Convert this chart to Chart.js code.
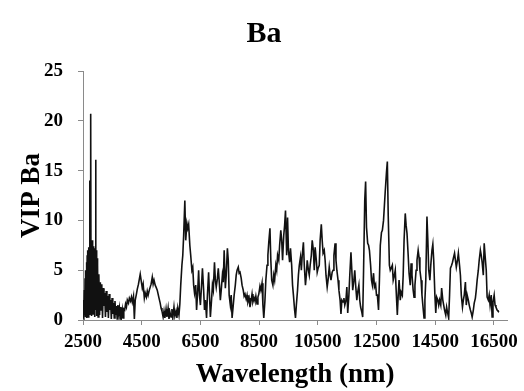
<!DOCTYPE html>
<html>

<head>
  <meta charset="UTF-8" />
  <title>VIP Ba</title>
  <script src="https://cdn.jsdelivr.net/npm/chart.js"></script>
  <style>
    body { margin: 0; background: #fff; }
  </style>
</head>

<body>
  <canvas id="vipChart" width="524" height="391"></canvas>
  <script>
    // dense spikes near 2500-3000 nm
    const wlA = [2510, 2522, 2534, 2546, 2558, 2570, 2582, 2594, 2606, 2618, 2630, 2642, 2654, 2666, 2678, 2690, 2702, 2714, 2726, 2738, 2750,
      2762, 2774, 2786, 2798, 2810, 2822, 2834, 2846, 2858, 2870, 2882, 2894, 2906, 2918, 2930, 2942, 2954, 2966, 2978, 2990, 3002];
    const vipA = [0.3, 2.0, 0.2, 3.0, 0.5, 4.2, 0.3, 5.0, 0.8, 5.8, 0.2, 6.5, 1.0, 7.0, 0.3, 7.3, 1.5, 6.8, 0.5, 14.0, 2.0,
      20.7, 1.0, 7.2, 0.4, 8.0, 2.5, 6.9, 0.6, 7.4, 1.2, 6.8, 0.3, 7.2, 3.0, 16.1, 1.0, 7.0, 0.4, 6.2, 1.8, 5.5];

    const wlB = [3015, 3040, 3065, 3090, 3115, 3140, 3165, 3190, 3215, 3240, 3265, 3290, 3315, 3340, 3365, 3390, 3415, 3440,
      3465, 3490, 3515, 3540, 3565, 3590, 3615, 3640, 3665, 3690, 3715, 3740, 3765, 3790, 3815, 3840, 3865, 3890];
    const vipB = [0.3, 4.6, 0.5, 3.8, 1.0, 3.6, 0.2, 3.2, 1.4, 2.7, 0.3, 2.9, 0.8, 2.4, 0.2, 2.6, 1.0, 2.0,
      0.1, 2.2, 0.6, 1.7, 0.2, 1.9, 0.5, 1.4, 0.1, 1.5, 0.7, 1.2, 0.1, 1.3, 0.4, 1.0, 0.2, 1.1];

    const wlC = [3920, 3950, 3980, 4010, 4050, 4080, 4120, 4150, 4180, 4220, 4250, 4280, 4320, 4350, 4390, 4420, 4450, 4490, 4520,
      4550, 4590, 4620, 4660, 4690, 4720, 4760, 4790, 4820, 4860, 4890, 4920, 4960, 4990, 5030, 5060, 5090, 5130, 5160,
      5190, 5230, 5260, 5290, 5330, 5360, 5400, 5430, 5460, 5500, 5530, 5560, 5600, 5630, 5670, 5700, 5730, 5770, 5800];
    const vipC = [1.0, 1.6, 1.3, 2.0, 1.7, 2.2, 1.9, 2.3, 1.8, 2.4, 0.1, 2.0, 2.6, 3.1, 3.6, 4.1, 4.6, 3.8, 3.2,
      3.6, 2.2, 2.7, 2.3, 2.9, 2.5, 3.0, 3.3, 3.6, 4.3, 3.6, 4.0, 3.5, 3.3, 3.0, 2.6, 2.2, 1.7, 1.2,
      0.9, 0.3, 0.9, 0.2, 1.1, 0.3, 1.2, 0.1, 0.8, 0.3, 1.1, 0.2, 1.3, 0.4, 0.9, 0.2, 1.2, 0.5, 1.6];

    const wlD = [5830, 5870, 5900, 5930, 5970, 6000, 6040, 6070, 6100, 6140,
      6170, 6210, 6240, 6270, 6300, 6340, 6370, 6410, 6440, 6470,
      6500, 6540, 6570, 6610, 6640, 6670, 6710, 6740, 6780, 6810,
      6840, 6880, 6910, 6940, 6980, 7010, 7040, 7080, 7110, 7150,
      7180, 7210, 7250, 7280, 7310, 7350, 7380, 7420, 7450, 7480,
      7520, 7550, 7580, 7620, 7650, 7690, 7720, 7750, 7790, 7820,
      7850, 7890, 7920, 7960, 7990, 8020, 8060, 8090, 8120, 8160,
      8190, 8230, 8260, 8290, 8330, 8360, 8390, 8430, 8460, 8490];
    const vipD = [3.5, 5.5, 6.5, 8.5, 12.0, 8.0, 9.7, 9.2, 9.6, 7.5,
      6.5, 5.0, 5.3, 3.5, 2.7, 3.5, 1.0, 3.0, 5.0, 2.5,
      1.5, 3.5, 5.2, 3.0, 1.0, 2.0, 0.2, 2.5, 4.8, 2.5,
      0.3, 2.0, 3.5, 3.0, 5.8, 4.0, 3.3, 4.2, 5.2, 3.5,
      2.0, 3.0, 4.5, 3.8, 7.0, 3.2, 4.5, 7.2, 6.0, 2.5,
      1.5, 2.5, 0.2, 1.5, 2.5, 3.5, 4.5, 5.0, 5.3, 4.7,
      4.8, 4.2, 3.5, 3.0, 2.4, 2.6, 2.1, 2.5, 1.8, 2.2,
      1.3, 2.0, 2.6, 1.8, 2.2, 1.9, 2.4, 1.6, 2.3, 2.6];

    const wlE = [8530, 8560, 8600, 8630, 8660, 8700, 8730, 8770, 8800, 8830,
      8870, 8900, 8930, 8970, 9000, 9030, 9070, 9100, 9130, 9170,
      9200, 9240, 9270, 9300, 9340, 9370, 9400, 9440, 9470, 9500,
      9540, 9570, 9610, 9640, 9670, 9710, 9740, 9770, 9810, 9840,
      9870, 9910, 9940, 9970, 10010, 10040, 10080, 10110, 10140, 10180,
      10210, 10240, 10280, 10310, 10350, 10380, 10410, 10450, 10480, 10510,
      10550, 10580, 10620, 10650, 10680, 10720, 10750, 10780, 10820, 10850,
      10890, 10920, 10950, 10990, 11020, 11050, 11090, 11120, 11150, 11190];
    const vipE = [3.4, 3.0, 3.7, 1.5, 0.2, 2.0, 4.0, 5.5, 6.5, 7.8,
      9.2, 6.0, 4.0, 3.5, 4.5, 4.0, 5.5, 5.0, 6.5, 6.0,
      7.5, 9.0, 8.0, 6.0, 8.5, 9.5, 11.0, 6.5, 10.3, 7.0,
      5.8, 7.2, 5.5, 3.5, 2.5, 1.0, 0.2, 1.5, 3.0, 4.5,
      5.5, 6.3, 5.0, 6.5, 7.8, 5.5, 3.5, 4.5, 6.0, 5.0,
      4.5, 5.5, 6.5, 8.0, 7.0, 5.0, 7.3, 6.0, 4.8, 5.2,
      5.5, 8.0, 9.6, 8.0, 6.7, 7.0, 6.0, 4.5, 3.3, 4.0,
      5.3, 4.5, 4.0, 4.8, 5.0, 6.5, 7.7, 6.0, 5.0, 4.0];

    const wlF = [11220, 11260, 11290, 11320, 11360, 11390, 11420, 11460, 11490, 11520,
      11560, 11590, 11630, 11660, 11690, 11730, 11760, 11790, 11830, 11860,
      11900, 11930, 11960, 12000, 12030, 12060, 12100, 12130, 12160, 12200,
      12230, 12260, 12300, 12330, 12360, 12400, 12430, 12470, 12500, 12530,
      12570, 12600, 12630, 12670, 12700, 12740, 12770, 12800, 12840, 12870,
      12900, 12940, 12970, 13000, 13040, 13070, 13110, 13140, 13170, 13210,
      13240, 13270, 13310, 13340, 13380, 13410, 13440, 13480, 13510, 13540,
      13580, 13610, 13650, 13680, 13710, 13750, 13780, 13810, 13850, 13880];
    const vipF = [3.0, 2.0, 0.6, 2.0, 1.8, 2.2, 1.5, 2.0, 3.3, 0.7,
      2.5, 4.5, 6.8, 5.0, 3.0, 4.0, 5.0, 3.5, 2.0, 2.8,
      3.5, 2.0, 1.3, 0.8, 0.3, 5.0, 12.0, 13.9, 9.3, 7.7,
      7.5, 7.0, 5.5, 4.0, 3.5, 4.7, 3.3, 3.6, 2.5, 2.5,
      1.0, 4.0, 7.5, 8.8, 9.0, 10.0, 11.5, 13.0, 14.8, 15.9,
      10.5, 5.5, 5.0, 5.2, 5.5, 4.0, 4.5, 5.0, 3.0, 0.5,
      2.5, 4.0, 2.0, 2.8, 2.5, 4.5, 8.0, 10.7, 9.5, 8.7,
      6.5, 4.7, 3.5, 5.7, 4.5, 3.0, 2.3, 3.5, 5.0, 6.0];

    const wlG = [13920, 13950, 13980, 14020, 14050, 14080, 14120, 14150, 14180, 14220,
      14250, 14280, 14320, 14350, 14390, 14420, 14450, 14490, 14520, 14550,
      14590, 14620, 14650, 14690, 14720, 14760, 14790, 14820, 14860, 14890,
      14920, 14960, 14990, 15020, 15060, 15090, 15120, 15160, 15190, 15220,
      15260, 15290, 15330, 15360, 15390, 15430, 15460, 15490, 15530, 15560,
      15590, 15630, 15660, 15700, 15730, 15760, 15800, 15830, 15870, 15900,
      15930, 15970, 16000, 16040, 16070, 16100, 16140, 16170, 16200, 16240,
      16270, 16310, 16340, 16370, 16410, 16440, 16470, 16510, 16540, 16570,
      16610, 16640, 16670];
    const vipG = [7.0, 6.3, 5.0, 4.0, 2.5, 1.5, 0.2, 2.0, 4.0, 10.4,
      8.0, 5.0, 4.0, 5.5, 7.0, 7.6, 6.0, 2.5, 0.7, 2.3,
      2.0, 1.5, 2.0, 1.5, 3.2, 2.0, 1.5, 1.0, 0.5, 1.3,
      0.8, 0.2, 2.5, 5.2, 5.5, 5.8, 6.2, 6.7, 6.0, 5.3,
      6.0, 6.7, 5.5, 4.5, 2.5, 1.3, 2.0, 2.5, 3.8, 1.5,
      2.5, 2.0, 1.5, 1.0, 0.7, 0.3, 1.0, 1.7, 2.2, 3.0,
      4.0, 5.0, 6.0, 7.0, 6.5, 5.8, 4.5, 7.7, 6.5, 5.0,
      2.3, 2.0, 2.5, 1.5, 2.5, 0.3, 1.8, 2.5, 1.5, 1.3,
      1.0, 0.9, 0.8];

    const xTickValues = [2500, 4500, 6500, 8500, 10500, 12500, 14500, 16500];
    const yTickStep = 5;

    const wavelength = [].concat(wlA, wlB, wlC, wlD, wlE, wlF, wlG);
    const vipBa = [].concat(vipA, vipB, vipC, vipD, vipE, vipF, vipG);
    const points = wavelength.map((w, i) => ({ x: w, y: vipBa[i] }));

    const serif = "'Liberation Serif', 'Times New Roman', serif";
    const axisGray = "#8a8a8a";

    const ctx = document.getElementById("vipChart").getContext("2d");
    new Chart(ctx, {
      type: "line",
      data: {
        datasets: [
          {
            data: points,
            borderColor: "#111",
            borderWidth: 1.6,
            pointRadius: 0,
            tension: 0,
            fill: false,
          },
        ],
      },
      options: {
        responsive: false,
        animation: false,
        layout: { padding: { left: 16, right: 12, top: 0, bottom: 0 } },
        plugins: {
          legend: { display: false },
          tooltip: { enabled: false },
          title: {
            display: true,
            text: "Ba",
            color: "#000",
            font: { family: serif, size: 30, weight: "bold" },
            padding: { top: 16, bottom: 19 },
          },
        },
        scales: {
          x: {
            type: "linear",
            min: 2500,
            max: 16950,
            afterBuildTicks: (s) => { s.ticks = xTickValues.map((v) => ({ value: v })); },
            afterFit: (s) => { s.height = 71; },
            grid: { drawOnChartArea: false, drawTicks: true, tickLength: 5, color: axisGray },
            border: { color: axisGray, width: 1 },
            ticks: {
              color: "#000",
              font: { family: serif, size: 19, weight: "bold" },
              padding: 6,
              maxRotation: 0,
              autoSkip: false,
              callback: (v) => String(v),
            },
            title: {
              display: true,
              text: "Wavelength (nm)",
              color: "#000",
              font: { family: serif, size: 27, weight: "bold" },
              padding: { top: 0, bottom: 0 },
            },
          },
          y: {
            min: 0,
            max: 25,
            afterFit: (s) => { s.width = 67; },
            grid: { drawOnChartArea: false, drawTicks: true, tickLength: 5, color: axisGray },
            border: { color: axisGray, width: 1 },
            ticks: {
              stepSize: yTickStep,
              color: "#000",
              font: { family: serif, size: 19, weight: "bold" },
              padding: 15,
            },
            title: {
              display: true,
              text: "VIP Ba",
              color: "#000",
              font: { family: serif, size: 27, weight: "bold" },
              padding: { top: 0, bottom: 0 },
            },
          },
        },
      },
    });
  </script>
</body>

</html>
